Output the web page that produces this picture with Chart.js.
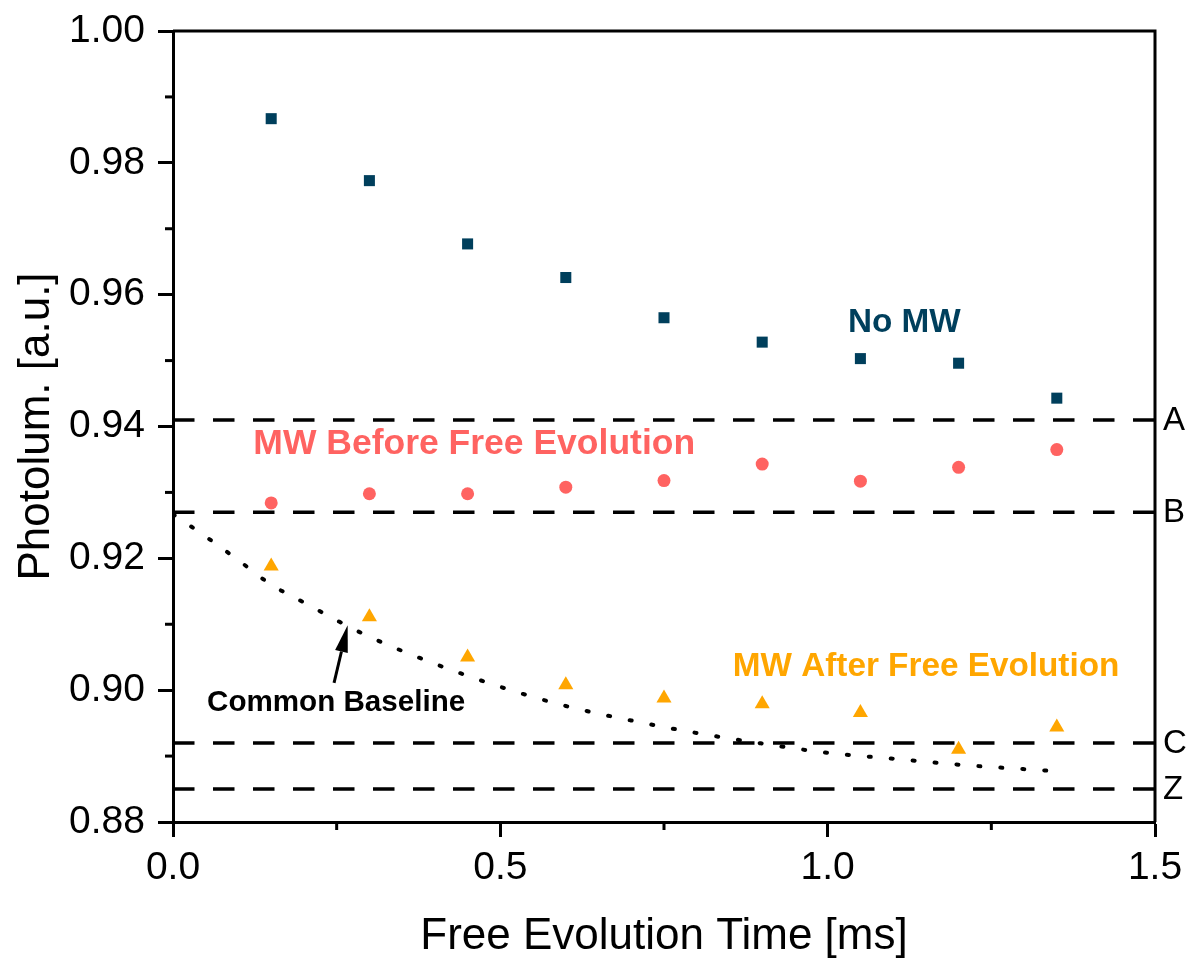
<!DOCTYPE html>
<html>
<head>
<meta charset="utf-8">
<script src="https://cdn.jsdelivr.net/npm/chart.js@4"></script>
<style>
  body { margin: 0; background: #fff; }
  canvas { display: block; }
</style>
</head>
<body>
<canvas id="plChart" width="1188" height="962"></canvas>
<script>
// free evolution times (ms)
const times = [0.15, 0.30, 0.45, 0.60, 0.75, 0.90, 1.05, 1.20, 1.35];
// photoluminescence readings for the three sequences
const noMw = [0.9867, 0.9773, 0.9677, 0.9626, 0.9565, 0.9528, 0.9503, 0.9496, 0.9443];
const mwBefore = [0.9284, 0.9298, 0.9298, 0.9308, 0.9318, 0.9343, 0.9317, 0.9338, 0.9365];
const mwAfter = [0.9188, 0.9111, 0.9050, 0.9008, 0.8988, 0.8979, 0.8966, 0.8910, 0.8944];
// common baseline curve
const baseTimes = [0, 0.05, 0.10, 0.15, 0.20, 0.25, 0.30, 0.40, 0.50, 0.60, 0.70, 0.80, 0.90, 1.00, 1.10, 1.20, 1.35];
const baseValues = [0.9267, 0.9233, 0.9197, 0.9160, 0.9133, 0.9106, 0.9081, 0.9040, 0.9005, 0.8976, 0.8954, 0.8935, 0.8919, 0.8905, 0.8896, 0.8887, 0.8877];
// reference levels
const refNames = ['A', 'B', 'C', 'Z'];
const refLevels = [0.941, 0.927, 0.892, 0.885];

const FONT = "'Liberation Sans', Arial, sans-serif";
const NAVY = '#003f5c', CORAL = '#ff6361', ORANGE = '#ffa600';

function pts(xs, ys) {
    return xs.map((t, i) => ({ x: t, y: ys[i] }));
}

const refSets = refLevels.map((v, i) => ({
    label: refNames[i],
    data: [{ x: 0, y: v }, { x: 1.5, y: v }],
    showLine: true,
    borderColor: '#000',
    borderWidth: 3.5,
    borderDash: [21.5, 18.5],
    pointRadius: 0,
    order: 3
}));

// letters next to the right axis, top/right frame and minor ticks
const framePlugin = {
    id: 'frame',
    afterDraw(chart) {
        const { ctx, chartArea: a, scales: { x, y } } = chart;
        ctx.save();
        ctx.strokeStyle = '#000';
        ctx.lineWidth = 3;
        ctx.beginPath();
        ctx.moveTo(a.left, a.top);
        ctx.lineTo(a.right, a.top);
        ctx.lineTo(a.right, a.bottom);
        ctx.stroke();

        x.ticks.forEach((tk, i) => {
            if (i === 0) return;
            const px = x.getPixelForValue((tk.value + x.ticks[i - 1].value) / 2);
            ctx.beginPath();
            ctx.moveTo(px, a.bottom);
            ctx.lineTo(px, a.bottom + 8);
            ctx.stroke();
        });
        y.ticks.forEach((tk, i) => {
            if (i === 0) return;
            const py = y.getPixelForValue((tk.value + y.ticks[i - 1].value) / 2);
            ctx.beginPath();
            ctx.moveTo(a.left, py);
            ctx.lineTo(a.left - 8, py);
            ctx.stroke();
        });

        ctx.fillStyle = '#000';
        ctx.font = '33px ' + FONT;
        ctx.textAlign = 'left';
        ctx.textBaseline = 'middle';
        refLevels.forEach((v, i) => {
            ctx.fillText(refNames[i], a.right + 8, y.getPixelForValue(v) + 1);
        });
        ctx.restore();
    }
};

// series names, the baseline note and its arrow
const notesPlugin = {
    id: 'notes',
    afterDatasetsDraw(chart) {
        const { ctx, scales: { x, y } } = chart;
        const put = (txt, tx, ty, color, size) => {
            ctx.fillStyle = color;
            ctx.font = 'bold ' + size + 'px ' + FONT;
            ctx.fillText(txt, x.getPixelForValue(tx), y.getPixelForValue(ty));
        };
        ctx.save();
        ctx.textAlign = 'left';
        ctx.textBaseline = 'alphabetic';
        put('No MW', 1.031, 0.9544, NAVY, 33.3);
        put('MW Before Free Evolution', 0.1227, 0.9359, CORAL, 35.5);
        put('MW After Free Evolution', 0.855, 0.9021, ORANGE, 33.3);
        put('Common Baseline', 0.052, 0.8969, '#000', 29.6);

        const x0 = x.getPixelForValue(0.246), y0 = y.getPixelForValue(0.9011);
        const x1 = x.getPixelForValue(0.2668), y1 = y.getPixelForValue(0.90985);
        const ang = Math.atan2(y1 - y0, x1 - x0);
        const headLen = 27, headHalf = 6.5;
        const bx = x1 - headLen * Math.cos(ang), by = y1 - headLen * Math.sin(ang);
        ctx.strokeStyle = '#000';
        ctx.fillStyle = '#000';
        ctx.lineWidth = 3;
        ctx.beginPath();
        ctx.moveTo(x0, y0);
        ctx.lineTo(bx, by);
        ctx.stroke();
        ctx.beginPath();
        ctx.moveTo(x1, y1);
        ctx.lineTo(bx + headHalf * Math.sin(ang), by - headHalf * Math.cos(ang));
        ctx.lineTo(bx - headHalf * Math.sin(ang), by + headHalf * Math.cos(ang));
        ctx.closePath();
        ctx.fill();
        ctx.restore();
    }
};

const ctx = document.getElementById('plChart').getContext('2d');
new Chart(ctx, {
    type: 'scatter',
    data: {
        datasets: [
            {
                label: 'No MW',
                data: pts(times, noMw),
                pointStyle: 'rect',
                pointRadius: 7.8,
                backgroundColor: NAVY,
                borderWidth: 0,
                order: 1
            },
            {
                label: 'MW Before Free Evolution',
                data: pts(times, mwBefore),
                pointStyle: 'circle',
                pointRadius: 6.5,
                backgroundColor: CORAL,
                borderWidth: 0,
                order: 1
            },
            {
                label: 'MW After Free Evolution',
                data: pts(times, mwAfter),
                pointStyle: 'triangle',
                pointRadius: 8.7,
                backgroundColor: ORANGE,
                borderWidth: 0,
                order: 1
            },
            {
                label: 'Common Baseline',
                data: pts(baseTimes, baseValues),
                showLine: true,
                cubicInterpolationMode: 'monotone',
                borderColor: '#000',
                borderWidth: 4,
                borderDash: [2, 20],
                borderCapStyle: 'round',
                pointRadius: 0,
                order: 2
            },
            ...refSets
        ]
    },
    options: {
        responsive: false,
        animation: false,
        layout: { padding: { top: 31, right: 33, left: 0, bottom: 0 } },
        plugins: {
            legend: { display: false },
            tooltip: { enabled: false }
        },
        scales: {
            x: {
                type: 'linear',
                min: 0,
                max: 1.5,
                afterFit: (s) => { s.height = 140; s.paddingLeft = 0; s.paddingRight = 0; },
                ticks: {
                    stepSize: 0.5,
                    color: '#000',
                    padding: 8,
                    font: { family: FONT, size: 39 },
                    callback: (v) => v.toFixed(1)
                },
                grid: { drawOnChartArea: false, tickLength: 15, tickWidth: 3, tickColor: '#000' },
                border: { color: '#000', width: 3 },
                title: {
                    display: true,
                    text: 'Free Evolution Time [ms]',
                    color: '#000',
                    font: { family: FONT, size: 44, lineHeight: 1 },
                    padding: { top: 0, bottom: 3 }
                }
            },
            y: {
                min: 0.88,
                max: 1.00,
                afterFit: (s) => { s.width = 173; s.paddingTop = 0; s.paddingBottom = 0; },
                ticks: {
                    stepSize: 0.02,
                    color: '#000',
                    padding: 13,
                    font: { family: FONT, size: 39 },
                    callback: (v) => v.toFixed(2)
                },
                grid: { drawOnChartArea: false, tickLength: 15, tickWidth: 3, tickColor: '#000' },
                border: { color: '#000', width: 3 },
                title: {
                    display: true,
                    text: 'Photolum. [a.u.]',
                    color: '#000',
                    font: { family: FONT, size: 44, lineHeight: 1 },
                    padding: { top: 15, bottom: 0 }
                }
            }
        }
    },
    plugins: [framePlugin, notesPlugin]
});
</script>
</body>
</html>
